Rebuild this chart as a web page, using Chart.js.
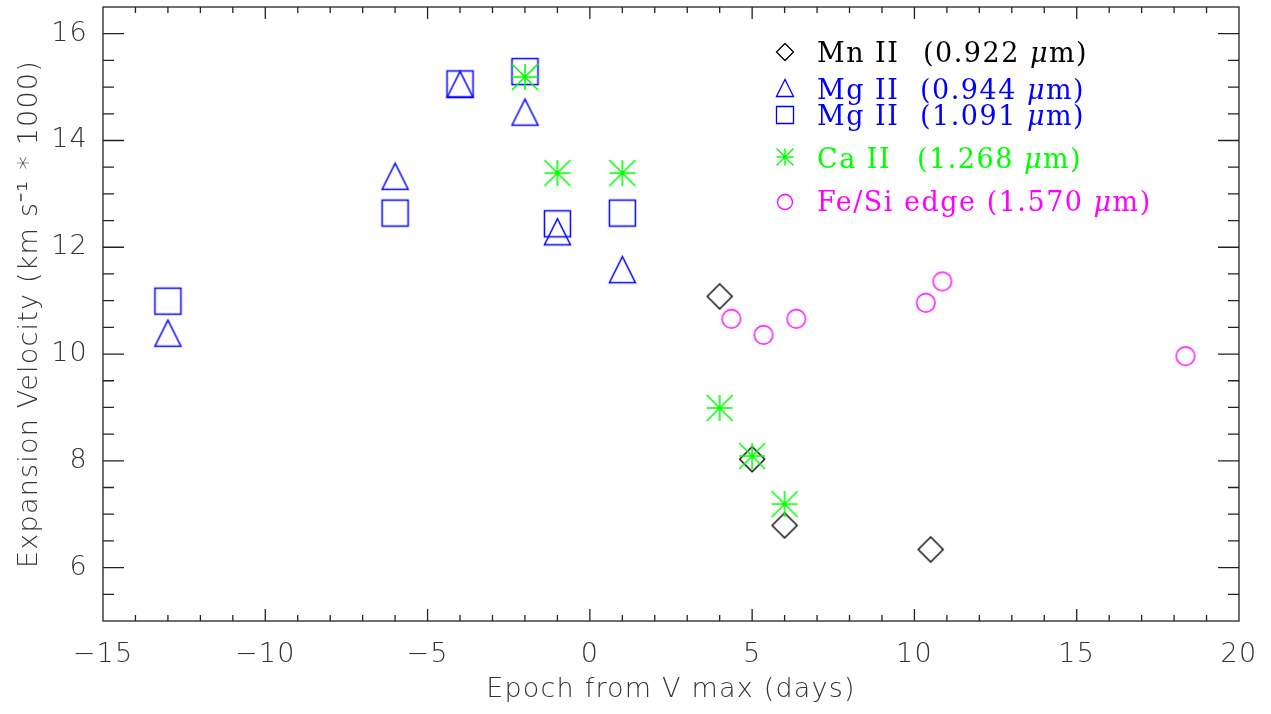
<!DOCTYPE html>
<html>
<head>
<meta charset="utf-8">
<script src="https://cdn.jsdelivr.net/npm/chart.js@4.4.0/dist/chart.umd.min.js"></script>
<style>
  html, body { margin: 0; padding: 0; background: #fff; }
  canvas { display: block; }
</style>
</head>
<body>
<canvas id="velChart" width="1271" height="714"></canvas>
<script>
// --- Data (epoch in days from V max, velocity in 1000 km/s) ---
const mnEpoch = [4, 5, 6, 10.5];
const mnVel = [11.08, 8.03, 6.79, 6.34];

const mg944Epoch = [-13, -6, -4, -2, -1, 1];
const mg944Vel = [10.39, 13.33, 15.05, 14.53, 12.29, 11.58];

const mg1091Epoch = [-13, -6, -4, -2, -1, 1];
const mg1091Vel = [10.99, 12.64, 15.06, 15.29, 12.44, 12.64];

const caEpoch = [-2, -1, 1, 4, 5, 6];
const caVel = [15.19, 13.39, 13.39, 8.99, 8.09, 7.19];

const feEpoch = [4.36, 5.35, 6.36, 10.35, 10.86, 18.35];
const feVel = [10.66, 10.36, 10.66, 10.96, 11.36, 9.96];

const xTickVals = [-15, -10, -5, 0, 5, 10, 15, 20];
const yTickVals = [6, 8, 10, 12, 14, 16];

const legendNames = ["Mn II", "Mg II", "Mg II", "Ca II", "Fe/Si edge"];
const legendWaves = ["0.922", "0.944", "1.091", "1.268", "1.570"];

const BLACK = '#000000', BLUE = '#0000ff', GREEN = '#00ff00', MAGENTA = '#ff00ff';
const AXIS_FONT = "'DejaVu Sans', 'Liberation Sans', sans-serif";
const LEGEND_FONT = "'DejaVu Serif', 'Liberation Serif', serif";

// --- IDL-like plot symbols drawn to small canvases (centered on the point) ---
function makeSymbol(kind, size, color, lw) {
    const s = Math.ceil(size + lw * 2 + 2);
    const c = document.createElement('canvas');
    c.width = s; c.height = s;
    const g = c.getContext('2d');
    const m = s / 2, h = size / 2;
    g.strokeStyle = color;
    g.lineWidth = lw;
    g.beginPath();
    if (kind === 'diamond') {
        g.moveTo(m, m - h); g.lineTo(m + h, m); g.lineTo(m, m + h); g.lineTo(m - h, m); g.closePath();
    } else if (kind === 'triangle') {
        g.moveTo(m - h, m + h); g.lineTo(m, m - h); g.lineTo(m + h, m + h); g.closePath();
    } else if (kind === 'square') {
        g.rect(m - h, m - h, size, size);
    } else if (kind === 'asterisk') {
        g.moveTo(m - h, m); g.lineTo(m + h, m);
        g.moveTo(m, m - h); g.lineTo(m, m + h);
        g.moveTo(m - h, m - h); g.lineTo(m + h, m + h);
        g.moveTo(m - h, m + h); g.lineTo(m + h, m - h);
    } else if (kind === 'circle') {
        g.arc(m, m, h, 0, Math.PI * 2);
    }
    g.stroke();
    return c;
}

const symMn = makeSymbol('diamond', 25, BLACK, 1.4);
const symMg1 = makeSymbol('triangle', 26, BLUE, 1.5);
const symMg2 = makeSymbol('square', 26, BLUE, 1.5);
const symCa = makeSymbol('asterisk', 26, GREEN, 1.6);
const symFe = makeSymbol('circle', 18.5, MAGENTA, 1.4);

const legendSyms = [
    makeSymbol('diamond', 17, BLACK, 1.3),
    makeSymbol('triangle', 17, BLUE, 1.3),
    makeSymbol('square', 17, BLUE, 1.3),
    makeSymbol('asterisk', 17, GREEN, 1.4),
    makeSymbol('circle', 15, MAGENTA, 1.3)
];
const legendColors = [BLACK, BLUE, BLUE, GREEN, MAGENTA];

function pts(xs, ys) {
    return xs.map((x, i) => ({ x: x, y: ys[i] }));
}

// wider text spacing, closer to the plotting font of the original
const spacingPlugin = {
    id: 'spacing',
    beforeDraw(chart) { chart.ctx.letterSpacing = '1.2px'; }
};

// --- Box with inward ticks on all four sides ---
const framePlugin = {
    id: 'frame',
    beforeDatasetsDraw(chart) {
        const { ctx, chartArea: a, scales: { x, y } } = chart;
        ctx.save();
        ctx.strokeStyle = '#222';
        ctx.lineWidth = 1.3;
        ctx.strokeRect(a.left, a.top, a.right - a.left, a.bottom - a.top);
        ctx.beginPath();
        for (let v = x.min + 1; v < x.max; v++) {
            const px = x.getPixelForValue(v);
            const len = v % 5 === 0 ? 12 : 6;
            ctx.moveTo(px, a.bottom); ctx.lineTo(px, a.bottom - len);
            ctx.moveTo(px, a.top); ctx.lineTo(px, a.top + len);
        }
        for (let v = y.min + 0.5; v < y.max; v += 0.5) {
            const py = y.getPixelForValue(v);
            const len = v % 2 === 0 ? 21 : 11;
            ctx.moveTo(a.left, py); ctx.lineTo(a.left + len, py);
            ctx.moveTo(a.right, py); ctx.lineTo(a.right - len, py);
        }
        ctx.stroke();
        ctx.restore();
    }
};

// --- Legend in the upper right of the plot ---
const legendPlugin = {
    id: 'idlLegend',
    afterDraw(chart) {
        const { ctx, chartArea: a } = chart;
        const symX = a.left + 682;
        const textX = a.left + 714;
        const symY = [45, 81, 108, 150, 195];
        const baseY = [55, 92, 118, 161, 204];
        const parenX = [a.left + 820, a.left + 817, a.left + 817, a.left + 814, null];
        ctx.save();
        ctx.letterSpacing = '1.5px';
        ctx.textBaseline = 'alphabetic';
        ctx.textAlign = 'left';
        legendNames.forEach((name, i) => {
            const sym = legendSyms[i];
            ctx.drawImage(sym, symX - sym.width / 2, a.top + symY[i] - sym.height / 2);
            ctx.fillStyle = legendColors[i];
            ctx.font = '27px ' + LEGEND_FONT;
            const by = a.top + baseY[i];
            ctx.fillText(name, textX, by);
            let px = parenX[i] !== null ? parenX[i] : textX + ctx.measureText(name + ' ').width;
            const pre = '(' + legendWaves[i] + ' ';
            ctx.fillText(pre, px, by);
            px += ctx.measureText(pre).width;
            ctx.font = 'italic 27px ' + LEGEND_FONT;
            ctx.fillText('\u03bc', px, by);
            px += ctx.measureText('\u03bc').width;
            ctx.font = '27px ' + LEGEND_FONT;
            ctx.fillText('m)', px, by);
        });
        ctx.restore();
    }
};

const ctx = document.getElementById('velChart').getContext('2d');
new Chart(ctx, {
    type: 'scatter',
    data: {
        datasets: [
            { label: 'Ca II (1.268 um)', data: pts(caEpoch, caVel), pointStyle: symCa },
            { label: 'Mn II (0.922 um)', data: pts(mnEpoch, mnVel), pointStyle: symMn },
            { label: 'Mg II (0.944 um)', data: pts(mg944Epoch, mg944Vel), pointStyle: symMg1 },
            { label: 'Mg II (1.091 um)', data: pts(mg1091Epoch, mg1091Vel), pointStyle: symMg2 },
            { label: 'Fe/Si edge (1.570 um)', data: pts(feEpoch, feVel), pointStyle: symFe }
        ]
    },
    options: {
        responsive: false,
        animation: false,
        events: [],
        layout: { padding: { top: 7, right: 32, left: 0, bottom: 0 } },
        plugins: {
            legend: { display: false },
            tooltip: { enabled: false }
        },
        scales: {
            x: {
                type: 'linear',
                min: -15,
                max: 20,
                grid: { display: false, drawTicks: false },
                border: { display: false },
                afterBuildTicks: s => { s.ticks = xTickVals.map(v => ({ value: v })); },
                afterFit: s => { s.height = 93; s.paddingLeft = 0; s.paddingRight = 0; },
                ticks: {
                    color: '#333',
                    padding: 18,
                    font: { family: AXIS_FONT, size: 27, weight: 200 },
                    callback: v => v < 0 ? '\u2212' + Math.abs(v) : '' + v
                },
                title: {
                    display: true,
                    text: 'Epoch from V max (days)',
                    color: '#333',
                    font: { family: AXIS_FONT, size: 27, weight: 200 },
                    padding: { top: 0, bottom: 8 }
                }
            },
            y: {
                type: 'linear',
                min: 5,
                max: 16.5,
                grid: { display: false, drawTicks: false },
                border: { display: false },
                afterBuildTicks: s => { s.ticks = yTickVals.map(v => ({ value: v })); },
                afterFit: s => { s.width = 103; s.paddingTop = 0; s.paddingBottom = 0; },
                ticks: {
                    color: '#333',
                    padding: 15,
                    font: { family: AXIS_FONT, size: 27, weight: 200 }
                },
                title: {
                    display: true,
                    text: 'Expansion Velocity (km s\u207b\u00b9 * 1000)',
                    color: '#333',
                    font: { family: AXIS_FONT, size: 27, weight: 200 },
                    padding: { top: 14, bottom: 0 }
                }
            }
        }
    },
    plugins: [spacingPlugin, framePlugin, legendPlugin]
});
</script>
</body>
</html>
